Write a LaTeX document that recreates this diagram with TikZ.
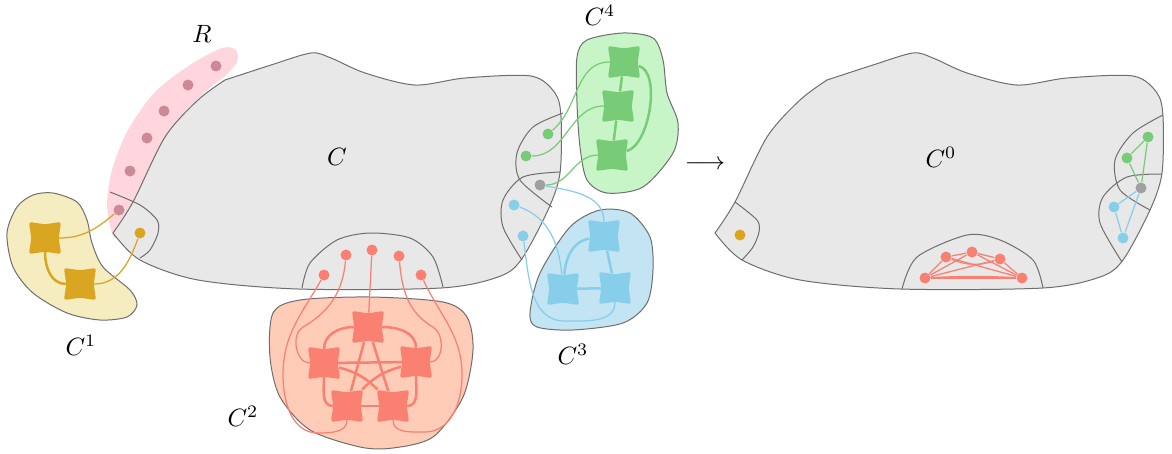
\documentclass[tikz,border=0pt]{standalone}
\usetikzlibrary{shapes.geometric}

\definecolor{blobgray}{HTML}{E8E8E8}
\definecolor{linegray}{HTML}{6E6E6E}
\definecolor{rosefill}{HTML}{FFD6DE}
\definecolor{rosedot}{HTML}{CC8A96}
\definecolor{gold}{HTML}{DAA520}
\definecolor{goldfill}{HTML}{F5ECC0}
\definecolor{salmon}{HTML}{FA8072}
\definecolor{salmonfill}{HTML}{FFCCB8}
\definecolor{skyblue}{HTML}{87CEEB}
\definecolor{skyfill}{HTML}{C3E4F3}
\definecolor{leaf}{HTML}{78CC78}
\definecolor{leaffill}{HTML}{C8F5C8}
\definecolor{dotgray}{HTML}{A0A0A0}

\begin{document}
\begin{tikzpicture}
  [x=0.4pt, y=0.4pt,
    blob/.style={%
      draw=linegray, line width=0.4pt
    },
    region/.style={%
      draw=linegray, line width=0.4pt
    },
    dot/.style={%
      circle, fill=#1, minimum size=4.4pt, inner sep=0pt
    },
    cstar/.style={%
      star, star points=4, star point ratio=1.66, shape border rotate=45,
      rounded corners=1pt, fill=#1, minimum size=18.2pt, inner sep=0pt
    },
    link/.style={draw=#1, line width=0.5pt},
    bond/.style={draw=#1, line width=1pt},
  ]
  \useasboundingbox (0,0) rectangle (1172,-453);

  % the band R
  \fill[rosefill] plot[smooth cycle] coordinates {(113,-236) (107,-205)
    (112,-170) (128,-130) (155,-92) (190,-65) (222,-48) (236,-50) (237,-62)
    (226,-75) (205,-92) (175,-125) (152,-170) (133,-215) (120,-235)};

  % C and C^0
  \foreach \dx in {0,602}
    \draw[blob, fill=blobgray, shift={(\dx,0)}]
      plot[smooth] coordinates {(113,-233) (133,-202) (165,-137) (198,-100)
        (225,-80)}
      -- plot[smooth] coordinates {(225,-80) (271,-65) (311,-53) (331,-58)
        (365,-73) (415,-85) (465,-78) (531,-76) (555,-93) (561,-117)
        (560,-173) (548,-210) (521,-260) (498,-277) (441,-288) (298,-289)
        (198,-280) (140,-260) (113,-233)}
      -- cycle;

  % regions of C
  \draw[region] plot[smooth] coordinates {(110,-192) (140,-205) (157,-220)
    (158,-233) (150,-250) (140,-258)};
  \draw[region] plot[smooth] coordinates {(302,-288) (310,-263) (337,-240)
    (370,-233) (410,-238) (433,-257) (443,-287)};
  \draw[region] plot[smooth] coordinates {(563,-113) (533,-127) (517,-153)
    (520,-180) (552,-207)};
  \draw[region] plot[smooth] coordinates {(560,-172) (523,-177) (503,-200)
    (503,-227) (522,-260)};

  % regions of C^0
  \draw[region] plot[smooth] coordinates {(735,-202) (757,-220) (759,-232)
    (753,-247) (742,-260)};
  \draw[region] plot[smooth] coordinates {(902,-289) (917,-257) (967,-235)
    (1000,-240) (1033,-260) (1043,-288)};
  \draw[region] plot[smooth] coordinates {(1163,-115) (1133,-133)
    (1115,-160) (1120,-190) (1150,-210)};
  \draw[region] plot[smooth] coordinates {(1162,-174) (1127,-177)
    (1103,-197) (1100,-223) (1122,-262)};

  % the pieces C^1 .. C^4
  \draw[blob, fill=goldfill] plot[smooth cycle] coordinates {(7,-233)
    (17,-207) (33,-195) (53,-193) (77,-202) (87,-220) (92,-243) (103,-267)
    (130,-290) (137,-305) (127,-317) (100,-320) (67,-313) (33,-293)
    (13,-267)};
  \draw[blob, fill=salmonfill] plot[smooth cycle] coordinates {(273,-313)
    (300,-300) (370,-297) (443,-302) (467,-317) (473,-350) (463,-397)
    (433,-437) (393,-448) (360,-447) (310,-430) (280,-397) (270,-357)};
  \draw[blob, fill=skyfill] plot[smooth cycle] coordinates {(530,-313)
    (540,-273) (570,-227) (600,-210) (630,-213) (650,-237) (653,-270)
    (647,-303) (623,-323) (573,-330) (537,-327)};
  \draw[blob, fill=leaffill] plot[smooth cycle] coordinates {(577,-57)
    (587,-40) (623,-33) (653,-38) (663,-60) (667,-93) (678,-123) (673,-153)
    (643,-187) (607,-193) (587,-180) (580,-147) (577,-103)};

  % labels
  \node (lR) at (202,-34) {$R$};
  \node (lC) at (337,-157) {$C$};
  \node (lC1) at (81,-345) {$C^1$};
  \node (lC2) at (243,-416) {$C^2$};
  \node (lC3) at (573,-354) {$C^3$};
  \node (lC4) at (600,-15) {$C^4$};
  \node (lC0) at (941,-157) {$C^0$};
  \node (arr) at (705,-165) {$\longrightarrow$};

  % dots of C
  \foreach \i/\x/\y in {1/119/210, 2/130/171, 3/147/138, 4/164/111,
    5/188/85, 6/216/66}
    \node[dot=rosedot] (r\i) at (\x,-\y) {};
  \node[dot=gold] (g1) at (140,-233) {};
  \foreach \i/\x/\y in {1/324/275, 2/346/255, 3/372/250, 4/399/256,
    5/421/275}
    \node[dot=salmon] (p\i) at (\x,-\y) {};
  \node[dot=leaf] (v1) at (548,-134) {};
  \node[dot=leaf] (v2) at (526,-156) {};
  \node[dot=dotgray] (s) at (540,-185) {};
  \node[dot=skyblue] (u1) at (514,-205) {};
  \node[dot=skyblue] (u2) at (523,-236) {};

  % stars
  \node[cstar=gold] (a1) at (45,-238) {};
  \node[cstar=gold] (a2) at (80,-284) {};
  \node[cstar=salmon] (b0) at (368,-327) {};
  \node[cstar=salmon] (b1) at (324,-363) {};
  \node[cstar=salmon] (b2) at (416,-362) {};
  \node[cstar=salmon] (b3) at (347,-406) {};
  \node[cstar=salmon] (b4) at (393,-406) {};
  \node[cstar=skyblue] (c0) at (604,-236) {};
  \node[cstar=skyblue] (c1) at (563,-289) {};
  \node[cstar=skyblue] (c2) at (615,-288) {};
  \node[cstar=leaf] (d1) at (624,-62) {};
  \node[cstar=leaf] (d2) at (618,-106) {};
  \node[cstar=leaf] (d3) at (612,-155) {};

  % C^1
  \draw[link=gold] (a1) to[out=0,in=220] (r1);
  \draw[bond=gold] (a1) to[out=-90,in=180] (a2);
  \draw[link=gold] (a2) to[out=0,in=250] (g1);

  % C^2
  \draw[bond=salmon] (b0) to[out=180,in=90] (b1);
  \draw[bond=salmon] (b0) to[out=0,in=90] (b2);
  \draw[bond=salmon] (b1) to[out=-90,in=180] (b3);
  \draw[bond=salmon] (b2) to[out=-90,in=0] (b4);
  \draw[bond=salmon] (b3) -- (b4);
  \draw[bond=salmon] (b0) -- (b3);
  \draw[bond=salmon] (b0) -- (b4);
  \draw[bond=salmon] (b1) -- (b2);
  \draw[bond=salmon] (b1) to[bend left=15] (b4);
  \draw[bond=salmon] (b2) to[bend right=15] (b3);
  \draw[link=salmon] (p3) -- (b0);
  \draw[link=salmon] (p2) to[out=-95,in=30] (303,-327)
    to[out=210,in=180] (b1);
  \draw[link=salmon] (p1) to[out=-120,in=90] (283,-375)
    to[out=-90,in=180] (318,-433) to[out=0,in=-90] (b3);
  \draw[link=salmon] (p4) to[out=-85,in=150] (433,-327)
    to[out=-30,in=0] (b2);
  \draw[link=salmon] (p5) to[out=-65,in=90] (462,-375)
    to[out=-90,in=0] (425,-432) to[out=180,in=-90] (b4);

  % C^3
  \draw[bond=skyblue] (c0) to[out=190,in=85] (c1);
  \draw[bond=skyblue] (c0) -- (c2);
  \draw[bond=skyblue] (c1) -- (c2);
  \draw[link=skyblue] (s) to[out=-10,in=90] (c0);
  \draw[link=skyblue] (u1) to[out=-20,in=95] (c1);
  \draw[link=skyblue] (u2) to[out=-82,in=180] (565,-321)
    to[out=0,in=-90] (c2);

  % C^4
  \draw[bond=leaf] (d1) -- (d2);
  \draw[bond=leaf] (d2) -- (d3);
  \draw[bond=leaf] (d1) to[out=-15,in=15,looseness=0.7] (d3);
  \draw[link=leaf] (v1) to[out=40,in=180] (d1);
  \draw[link=leaf] (v2) to[out=0,in=180] (d2);
  \draw[link=leaf] (s) to[out=0,in=180] (d3);

  % dots of C^0
  \node[dot=gold] (h1) at (740,-235) {};
  \foreach \i/\x/\y in {1/925/278, 2/946/257, 3/972/252, 4/1000/259,
    5/1022/278}
    \node[dot=salmon] (q\i) at (\x,-\y) {};
  \node[dot=leaf] (w1) at (1148,-137) {};
  \node[dot=leaf] (w2) at (1127,-158) {};
  \node[dot=dotgray] (t) at (1141,-188) {};
  \node[dot=skyblue] (k1) at (1114,-207) {};
  \node[dot=skyblue] (k2) at (1123,-238) {};

  \draw[link=salmon] (q1) -- (q2) -- (q3) -- (q4) -- (q5);
  \draw[link=salmon] (q1) -- (q5);
  \draw[link=salmon] (q1) to[bend left=3] (q5);
  \draw[link=salmon] (q1) -- (q3);
  \draw[link=salmon] (q1) -- (q4);
  \draw[link=salmon] (q2) to[bend right=20] (q4);
  \draw[link=salmon] (q2) -- (q5);
  \draw[link=salmon] (q3) -- (q5);
  \draw[link=leaf] (w1) -- (w2) -- (t) -- (w1);
  \draw[link=skyblue] (k1) -- (t) -- (k2) -- (k1);

\end{tikzpicture}
\end{document}
